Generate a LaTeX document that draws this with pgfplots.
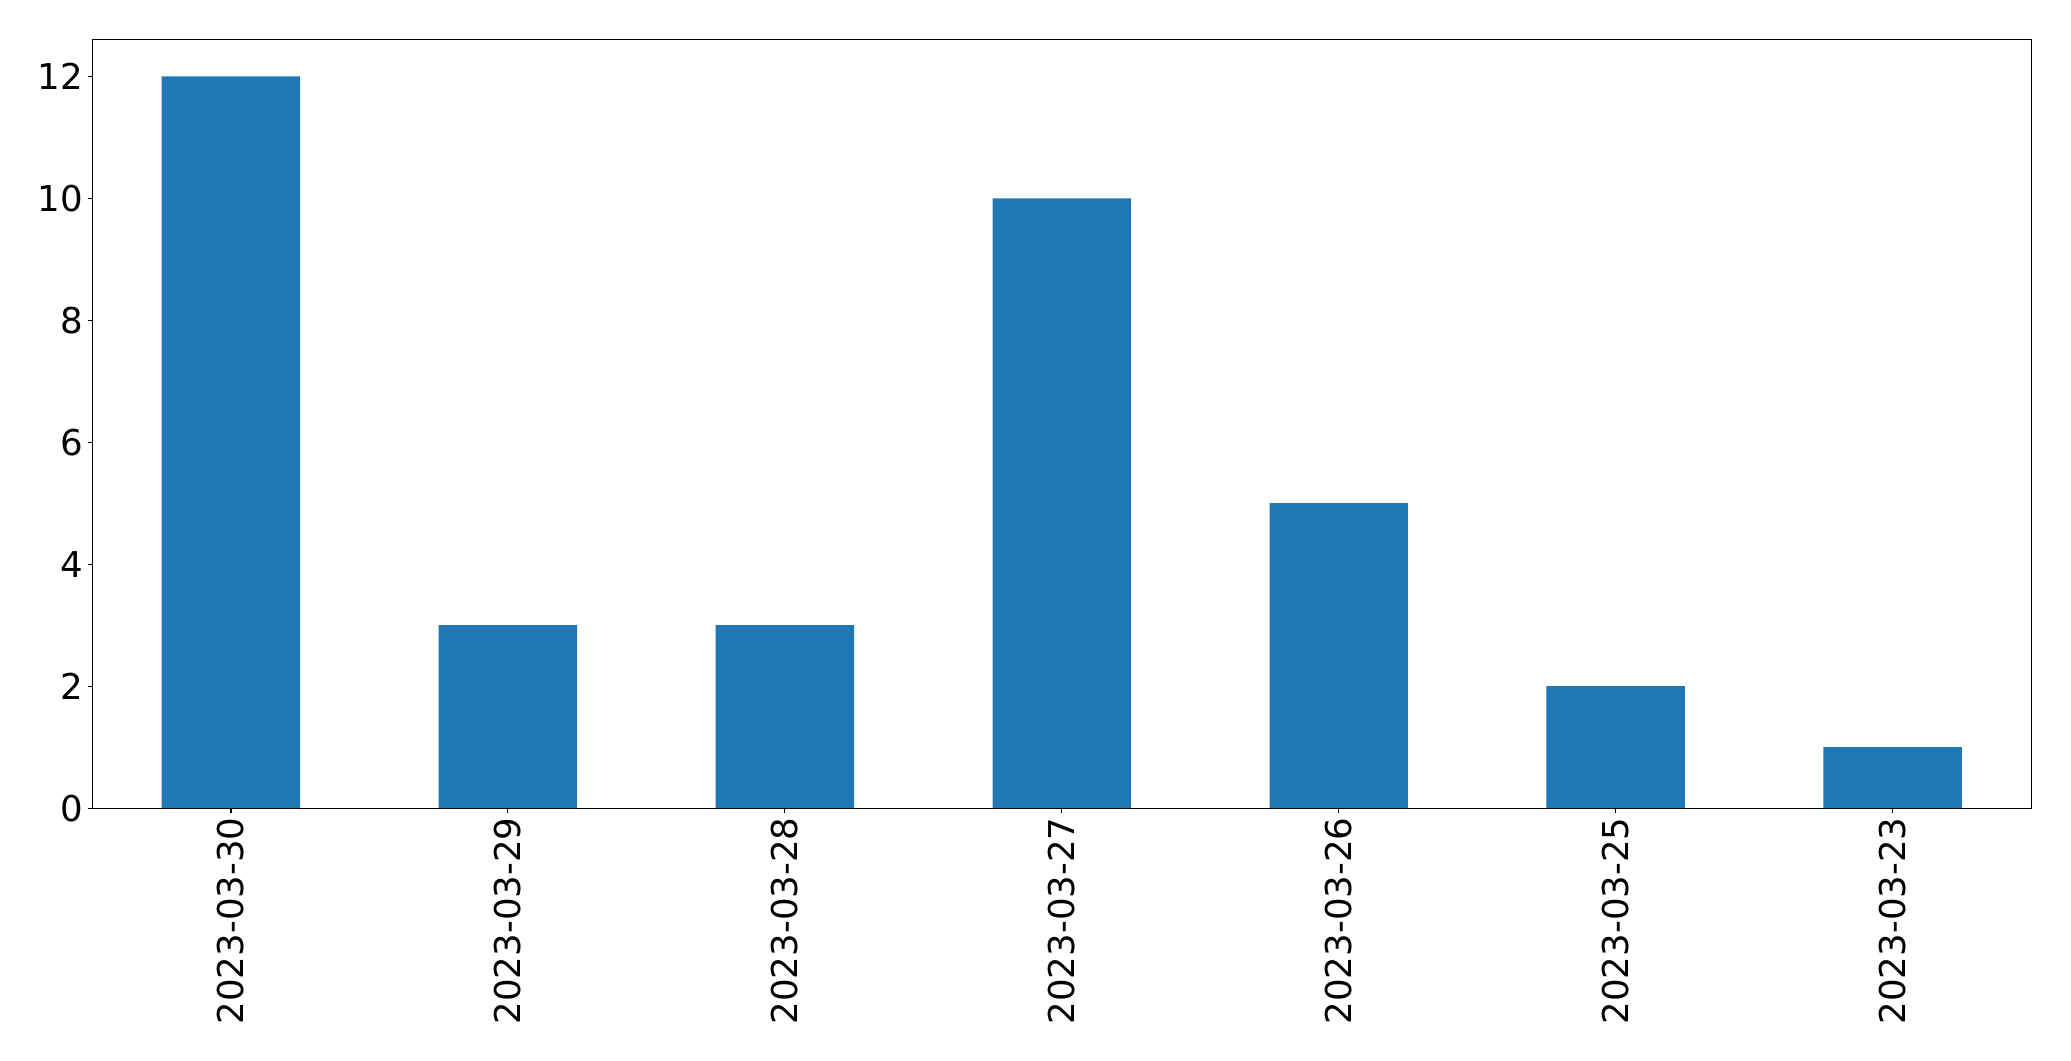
\documentclass[border=0pt]{standalone}
\usepackage{pgfplots}
\pgfplotsset{compat=1.18}
\usepackage{fontspec}
\setmainfont{DejaVu Sans}
\definecolor{mplblue}{HTML}{1F77B4}
\begin{document}
\begin{tikzpicture}
\begin{axis}[
  scale only axis,
  width=697.9bp, height=276.6bp,
  xmin=-0.5, xmax=6.5, ymin=0, ymax=12.6,
  ybar, bar width=0.5,
  bar shift=0pt,
  xtick={0,1,2,3,4,5,6},
  xticklabels={2023-03-30,2023-03-29,2023-03-28,2023-03-27,2023-03-26,2023-03-25,2023-03-23},
  ytick={0,2,4,6,8,10,12},
  tick align=outside,
  tick pos=left,
  major tick length=1.75bp,
  every tick/.style={black, line width=0.4bp},
  axis line style={line width=0.4bp},
  ticklabel style={font=\fontsize{12.8bp}{15bp}\selectfont},
  /pgf/number format/assume math mode=true,
  xticklabel style={rotate=90, anchor=east, inner sep=1.5bp},
  yticklabel style={inner sep=1.5bp},
  clip=false,
]
\addplot[fill=mplblue, draw=none] coordinates {(0,12) (1,3) (2,3) (3,10) (4,5) (5,2) (6,1)};
\coordinate (sw) at (rel axis cs:0,0);
\end{axis}
\path[use as bounding box] (sw) ++(-33.3bp,-91.06bp) rectangle ++(745.56bp,381.96bp);
\end{tikzpicture}
\end{document}
